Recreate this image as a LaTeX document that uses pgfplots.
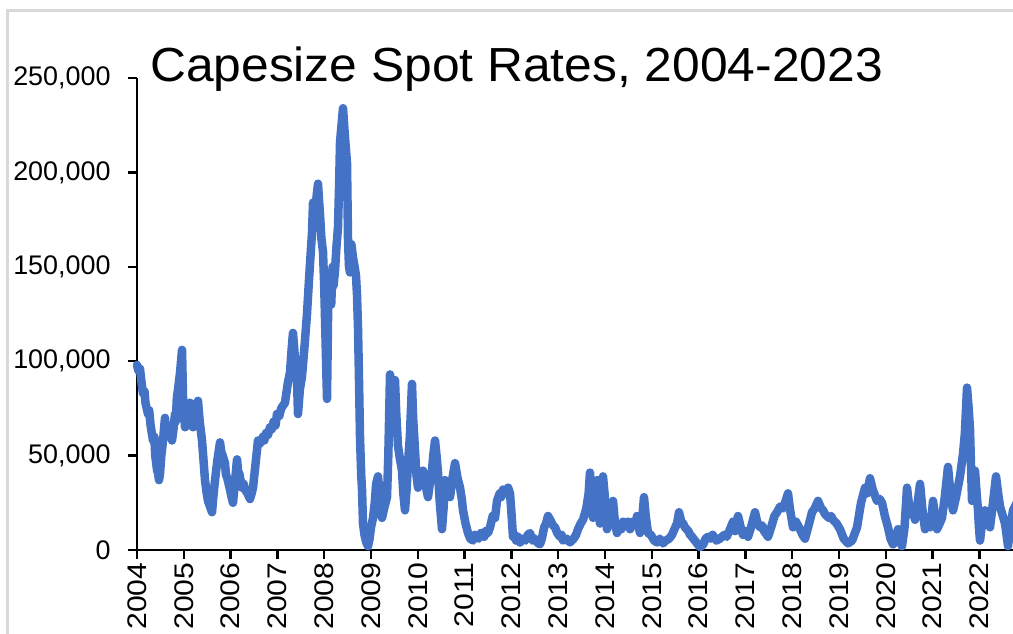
\documentclass[border=0pt]{standalone}
\usepackage{graphicx}
\usepackage{pgfplots}
\pgfplotsset{compat=1.18}
\usepackage{fontspec}
\setmainfont{Liberation Sans}
\definecolor{capeblue}{RGB}{68,114,196}
\definecolor{framegray}{RGB}{217,217,217}
\begin{document}
\begin{tikzpicture}[x=1bp,y=1bp]
\useasboundingbox (0,0) rectangle (1013,634);
\draw[framegray, line width=3bp] (7,-5) -- (7,623) -- (1020,623);
\node[anchor=base west, inner sep=0pt, font=\fontsize{48}{56}\selectfont] at (150,552) {\scalebox{1.04}[1]{Capesize Spot Rates, 2004-2023}};
\begin{axis}[
  at={(137bp,84bp)}, anchor=south west,
  scale only axis, width=876bp, height=472bp,
  xmin=2004, xmax=2022.718, ymin=0, ymax=250000,
  axis x line*=bottom, axis y line*=left,
  axis line style={-, black, line width=2.5bp},
  tick style={black, line width=2.5bp},
  tick align=outside, major tick length=9bp,
  xtick={2004,2005,...,2022},
  ytick={0,50000,100000,150000,200000,250000},
  scaled y ticks=false,
  xticklabel={\scalebox{1.12}[1]{\pgfmathprintnumber[1000 sep={}]{\tick}}},
  xticklabel style={rotate=90, anchor=east, font=\fontsize{27}{32}\selectfont},
  yticklabel style={/pgf/number format/fixed, /pgf/number format/1000 sep={,}, font=\fontsize{27}{32}\selectfont, xshift=-14bp},
  /pgf/number format/assume math mode=true,
  clip=false,
]
\addplot[capeblue, line width=8.5bp, line join=round, line cap=round] coordinates {
(2004.00,98000) (2004.03,95000) (2004.064,96000) (2004.10,88000) (2004.128,83000) (2004.16,84000) (2004.18,78000)
(2004.235,72000) (2004.26,74000) (2004.29,66000) (2004.342,58000) (2004.37,60000) (2004.39,50000) (2004.43,42000) (2004.449,41000)
(2004.47,37000) (2004.49,40000) (2004.52,50000) (2004.556,58000) (2004.598,70000) (2004.62,62000) (2004.65,64000)
(2004.70,66000) (2004.748,58000) (2004.78,64000) (2004.812,72000) (2004.83,68000) (2004.85,80000) (2004.876,85000)
(2004.92,94000) (2004.962,106000) (2004.983,81000) (2005.00,75000) (2005.026,65000) (2005.05,70000) (2005.08,72000)
(2005.10,66000) (2005.132,78000) (2005.16,70000) (2005.197,65000) (2005.25,74000) (2005.303,79000) (2005.34,68000)
(2005.389,58000) (2005.42,48000) (2005.453,37000) (2005.49,30000) (2005.517,26000) (2005.56,23000)
(2005.603,20000) (2005.63,28000) (2005.667,37000) (2005.72,48000) (2005.774,57000) (2005.80,52000) (2005.83,50000)
(2005.880,46000) (2005.90,40000) (2005.93,38000) (2005.987,32000) (2006.02,28000) (2006.051,25000) (2006.09,35000)
(2006.137,48000) (2006.16,42000) (2006.19,40000) (2006.244,33000) (2006.28,35000) (2006.308,32000) (2006.36,30000)
(2006.415,27000) (2006.45,30000) (2006.479,33000) (2006.53,45000) (2006.585,58000) (2006.61,56000) (2006.64,57000)
(2006.692,60000) (2006.72,58000) (2006.76,62000) (2006.80,61000) (2006.842,65000) (2006.88,64000) (2006.92,68000) (2006.96,66000) (2006.991,72000) (2007.04,71000) (2007.08,75000)
(2007.162,78000) (2007.22,88000) (2007.269,94000) (2007.30,105000) (2007.333,115000) (2007.38,100000)
(2007.419,90000) (2007.44,72000) (2007.48,85000) (2007.526,92000) (2007.58,108000) (2007.632,125000)
(2007.68,145000) (2007.739,168000) (2007.761,184000) (2007.80,175000) (2007.84,188000) (2007.868,194000)
(2007.89,185000) (2007.910,178000) (2007.94,165000) (2007.974,158000) (2008.00,140000) (2008.03,110000)
(2008.060,80000) (2008.08,120000) (2008.10,145000) (2008.124,147000) (2008.15,130000) (2008.18,150000)
(2008.20,140000) (2008.231,148000) (2008.26,160000) (2008.295,171000) (2008.32,195000) (2008.338,216000)
(2008.37,225000) (2008.402,234000) (2008.44,220000) (2008.487,205000) (2008.509,164000) (2008.53,150000)
(2008.551,147000) (2008.58,162000) (2008.615,155000) (2008.65,150000) (2008.68,145000) (2008.701,135000)
(2008.722,118000) (2008.74,95000) (2008.765,60000) (2008.79,40000) (2008.808,32000) (2008.829,14000)
(2008.86,8000) (2008.90,4000) (2008.936,2000) (2008.97,6000) (2009.00,12000) (2009.043,17000)
(2009.08,25000) (2009.11,35000) (2009.150,39000) (2009.19,28000) (2009.235,17000) (2009.28,22000)
(2009.342,28000) (2009.37,50000) (2009.406,93000) (2009.43,80000) (2009.470,64000) (2009.49,75000)
(2009.513,90000) (2009.54,72000) (2009.577,55000) (2009.62,48000) (2009.662,42000) (2009.69,30000)
(2009.726,21000) (2009.76,32000) (2009.791,46000) (2009.83,60000) (2009.876,88000) (2009.90,70000)
(2009.940,53000) (2009.97,40000) (2010.004,33000) (2010.05,38000) (2010.111,42000) (2010.16,35000)
(2010.218,28000) (2010.26,36000) (2010.303,42000) (2010.33,50000) (2010.368,58000) (2010.40,50000)
(2010.432,41000) (2010.47,25000) (2010.517,11000) (2010.55,22000) (2010.581,37000) (2010.63,33000)
(2010.688,28000) (2010.74,38000) (2010.795,46000) (2010.85,38000) (2010.902,33000) (2010.94,27000)
(2010.966,21000) (2011.02,14000) (2011.073,9000) (2011.12,6000) (2011.179,5000) (2011.22,8000) (2011.25,7000)
(2011.30,6000) (2011.35,9000) (2011.393,9000) (2011.42,7000) (2011.45,10000) (2011.50,9000) (2011.543,12000) (2011.60,18000) (2011.65,17000) (2011.692,26000)
(2011.75,30000) (2011.78,28000) (2011.821,32000) (2011.88,30000) (2011.93,33000) (2011.970,30000) (2012.00,20000)
(2012.034,7000) (2012.07,8000) (2012.10,5000) (2012.14,7000) (2012.184,4000) (2012.25,6000) (2012.30,5000) (2012.35,8000) (2012.397,9000)
(2012.45,5000) (2012.50,6000) (2012.55,4000) (2012.611,3000) (2012.65,6000) (2012.70,12000) (2012.74,14000) (2012.782,18000)
(2012.85,15000) (2012.89,13000) (2012.932,12000) (2012.98,9000) (2013.038,7000) (2013.07,8000) (2013.10,5000) (2013.18,6000)
(2013.252,4000) (2013.33,6000) (2013.38,8000) (2013.423,11000) (2013.48,14000) (2013.530,16000) (2013.60,22000)
(2013.65,30000) (2013.679,41000) (2013.71,30000) (2013.744,17000) (2013.78,28000) (2013.829,37000)
(2013.86,25000) (2013.893,14000) (2013.92,25000) (2013.957,39000) (2013.99,30000) (2014.043,11000)
(2014.10,18000) (2014.171,26000) (2014.21,15000) (2014.256,9000) (2014.32,13000) (2014.35,11000) (2014.385,15000)
(2014.45,13000) (2014.49,15000) (2014.534,11000) (2014.60,15000) (2014.65,13000) (2014.684,18000) (2014.72,12000) (2014.748,9000)
(2014.80,18000) (2014.833,28000) (2014.87,18000) (2014.919,9000) (2014.98,8000) (2015.05,5000)
(2015.111,4000) (2015.17,6000) (2015.239,3500) (2015.30,5000) (2015.37,6000) (2015.432,8000)
(2015.50,12000) (2015.54,14000) (2015.581,20000) (2015.63,15000) (2015.67,14000) (2015.709,12000) (2015.78,10000) (2015.82,8000) (2015.859,7000)
(2015.95,4000) (2016.030,1500) (2016.10,3000) (2016.15,6000) (2016.201,7000) (2016.25,6000) (2016.30,8000) (2016.38,5000)
(2016.457,6000) (2016.50,7000) (2016.55,8000) (2016.60,7000) (2016.671,11000) (2016.735,15000) (2016.78,10000)
(2016.842,18000) (2016.90,12000) (2016.949,8000) (2017.00,10000) (2017.056,7000) (2017.12,12000)
(2017.205,20000) (2017.25,15000) (2017.312,12000) (2017.36,13000) (2017.40,10000) (2017.483,7000) (2017.55,12000)
(2017.62,18000) (2017.675,20000) (2017.74,23000) (2017.803,22000) (2017.86,26000) (2017.910,30000)
(2017.95,22000) (2018.017,12000) (2018.08,15000) (2018.167,11000) (2018.22,8000) (2018.274,6000)
(2018.34,12000) (2018.423,20000) (2018.48,22000) (2018.551,26000) (2018.62,22000) (2018.66,21000) (2018.701,19000)
(2018.78,17000) (2018.83,18000) (2018.872,16000) (2018.95,14000) (2019.021,11000) (2019.10,6000) (2019.192,3500)
(2019.28,5000) (2019.385,12000) (2019.47,25000) (2019.556,33000) (2019.60,30000) (2019.662,38000)
(2019.72,32000) (2019.812,26000) (2019.87,27000) (2019.919,25000) (2019.98,18000) (2020.047,12000)
(2020.10,6000) (2020.154,3000) (2020.20,5000) (2020.261,11000) (2020.30,5000) (2020.346,2000)
(2020.40,12000) (2020.453,33000) (2020.49,25000) (2020.517,19000) (2020.57,22000) (2020.624,16000)
(2020.68,25000) (2020.731,35000) (2020.78,22000) (2020.838,11000) (2020.89,14000) (2020.944,12000)
(2020.98,18000) (2021.009,26000) (2021.05,18000) (2021.094,11000) (2021.15,14000) (2021.201,17000)
(2021.26,28000) (2021.329,44000) (2021.38,30000) (2021.436,21000) (2021.50,28000) (2021.585,39000)
(2021.650,51000) (2021.69,62000) (2021.735,86000) (2021.77,75000) (2021.799,64000) (2021.82,45000)
(2021.842,26000) (2021.87,35000) (2021.906,42000) (2021.94,30000) (2021.970,21000) (2021.99,12000)
(2022.013,5000) (2022.06,15000) (2022.120,21000) (2022.17,16000) (2022.226,12000) (2022.29,25000)
(2022.355,39000) (2022.40,30000) (2022.440,23000) (2022.50,18000) (2022.547,14000) (2022.58,8000)
(2022.611,2000) (2022.66,12000) (2022.718,21000) (2022.80,25000)
};
\end{axis}
\end{tikzpicture}
\end{document}
